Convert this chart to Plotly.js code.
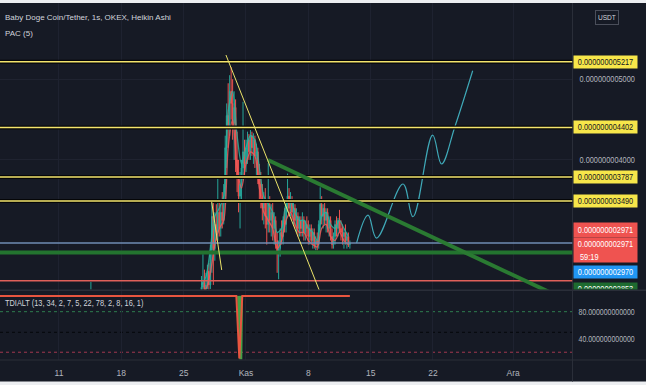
<!DOCTYPE html>
<html><head><meta charset="utf-8">
<script src="https://cdn.plot.ly/plotly-3.0.1.min.js"></script>
<style>html,body{margin:0;padding:0;background:#161a25;}#chart{width:646px;height:385px;}</style>
</head><body><div id="chart"></div>
<script>
// prices below are in units of 1e-12 USDT
const PRICE_UNIT = 1e-12;

// Heikin Ashi bars (4h resolution), starting 2021-10-27 00:00
const barStart = '2021-10-27T00:00:00Z';
const barStepHours = 4;
const haOpen = [
 2350,2420,2480,2390,2450,2620, 2450,2880,3300,2900,3200,3100,
 3350,3150,3350,3250,3550,4150, 4550,4400,4850,4700,4450,4650,
 4000,3800,3550,3700,3900,4100, 3950,4150,4250,4100,4300,4150,
 4250,4050,4100,3800,3700,3550, 3400,3500,3300,3200,3450,3250,
 3350,3150,3250,3000,2850,2900, 3100,3050,3250,3200,3450,3550,
 3400,3500,3350,3400,3250,3300, 3150,3250,3150,3250,3100,3200,
 3150,3050,3150,3000,3100,2950, 3000,2950,3200,3450,3300,3400,
 3250,3350,3150,3250,3050,2950, 3050,3200,3150,3250,3150,3100,
 3050,3100,3000,3050,2950];
const haHigh = [
 2560,2830,2640,2600,2700,2720, 2950,3480,3500,3350,3450,3780,
 3500,3450,3600,3700,4300,4700, 4950,5050,5150,5000,4850,4750,
 4350,4000,3850,4000,4720,4250, 4250,4350,4320,4370,4350,4330,
 4300,4200,4150,3950,3850,3700, 3600,3650,3500,3960,3550,3450,
 3500,3350,3300,3100,3000,3150, 3250,3300,3400,3500,3830,3650,
 3600,3550,3500,3450,3400,3350, 3300,3300,3350,3300,3250,3300,
 3250,3200,3200,3150,3150,3050, 3100,3250,3660,3550,3450,3500,
 3400,3400,3300,3300,3150,3100, 3250,3300,3280,3380,3250,3200,
 3150,3200,3100,3100,3000];
const haLow = [
 2300,2380,2330,2340,2400,2380, 2400,2600,2450,2750,3000,3000,
 3050,3050,3150,3200,3450,3900, 4150,4300,4500,4250,4000,3850,
 3600,3350,3150,3500,3750,3800, 3850,3950,4000,4000,4050,3950,
 3900,3800,3700,3500,3400,3250, 3200,3150,2950,3100,3100,3050,
 3000,2950,2900,2600,2520,2800, 2950,2950,3100,3100,3350,3300,
 3300,3250,3200,3150,3100,3050, 3050,3050,3050,3000,3000,3050,
 2950,2950,2950,2900,2900,2880, 2880,2900,3100,3200,3150,3200,
 3100,3100,3050,3000,2900,2900, 2950,3050,3050,3100,3000,2950,
 2900,2950,2900,2920,2900];
const haClose = [
 2420,2480,2390,2450,2620,2450, 2880,3300,2900,3200,3100,3350,
 3150,3350,3250,3550,4150,4550, 4400,4850,4700,4450,4650,4000,
 3800,3550,3700,3900,4100,3950, 4150,4250,4100,4300,4150,4250,
 4050,4100,3800,3700,3550,3400, 3500,3300,3200,3450,3250,3350,
 3150,3250,3000,2850,2900,3100, 3050,3250,3200,3450,3550,3400,
 3500,3350,3400,3250,3300,3150, 3250,3150,3250,3100,3200,3150,
 3050,3150,3000,3100,2950,3000, 2950,3200,3450,3300,3400,3250,
 3350,3150,3250,3050,2950,3050, 3200,3150,3250,3150,3100,3050,
 3100,3000,3050,2950,2971];

// one early bar poking into view
const earlyTime = ['2021-10-14 14:00'];
const earlyOpen = [2300], earlyHigh = [2486], earlyLow = [2250], earlyClose = [2350];

// PAC (5) channel, sampled every 12h from 2021-10-27 00:00
const pacStepHours = 12;
const pacUpper = [2450,2550,2900,3300,3400,3550,4600,4850,4300,3950,4150,4300,4250,3900,3550,3450,3350,3100,3150,3450,3500,3350,3250,3250,3150,3100,3000,3300,3350,3200,3150,3250,3150,3050];
const pacLower = [2350,2400,2600,2950,3150,3250,4150,4500,3900,3650,3950,4100,4050,3650,3350,3250,3150,2900,3000,3250,3350,3200,3100,3100,3000,2950,2920,3150,3200,3050,3000,3100,3000,2950];

// horizontal levels
const yellowLevels = [5217, 4402, 3787, 3490];
const blueLevel = 2971;
const greenLevel = 2853;
const redLevel = 2502;

// trend lines [start, end]
const yellowTrendDates = [['2021-10-29 18:00', '2021-11-09 16:00'], ['2021-10-28 03:30', '2021-10-29 06:30']];
const yellowTrendPrices = [[5300, 2262], [3481, 2635]];
const greenTrendDates = ['2021-11-03 11:15', '2021-12-06 06:00'];
const greenTrendPrices = [3998, 2300];

// projected path drawing
const projDates = ['2021-11-13 10:00','2021-11-14 17:00','2021-11-15 16:00','2021-11-18 15:00','2021-11-19 18:00','2021-11-21 23:00','2021-11-22 23:00','2021-11-24 11:00','2021-11-26 11:00'];
const projPrices = [2969, 3316, 3031, 3701, 3295, 4308, 3949, 4411, 5105];

// TDI ALT indicator
const tdiRedDates = ['2021-10-04 00:00','2021-10-20 00:00','2021-10-30 22:00','2021-10-31 06:00','2021-10-31 14:00','2021-11-06 00:00','2021-11-12 16:00'];
const tdiRedVals = [103, 103, 103, 12, 103, 103, 103];
const tdiGreenDates = ['2021-10-31 04:00','2021-10-31 08:00','2021-10-31 10:00','2021-10-31 12:00'];
const tdiGreenVals = [103, 10, 10, 103];
const tdiLevels = [80, 50, 21];

// axis ticks
const dateTicks = ['2021-10-11','2021-10-18','2021-10-25','2021-11-01','2021-11-08','2021-11-15','2021-11-22','2021-12-01'];
const dateTickText = ['11','18','25','Kas','8','15','22','Ara'];
const priceTicks = [4000, 5000];
const tdiTicks = [40, 80];

// ---------- build ----------
const W = 646, H = 385;
const py = p => 1 - p / H;      // pixel row -> paper
const px = p => p / W;          // pixel col -> paper
const FONT = "'Liberation Sans', Arial, sans-serif";
const X0 = '2021-10-04 09:00', X1 = '2021-12-07 16:00';
const U = PRICE_UNIT;
const HEADER_TEXTS = ['Baby Doge Coin/Tether, 1s, OKEX, Heikin Ashi', 'PAC (5)'];

function timeline(n, stepH) {
  const t0 = Date.parse(barStart);
  return Array.from({length: n}, (_, i) => new Date(t0 + i * stepH * 3600e3).toISOString().slice(0, 16).replace('T', ' '));
}
const times = earlyTime.concat(timeline(haOpen.length, barStepHours));
const sc = a => a.map(v => v * U);

const candles = {
  type: 'candlestick', xaxis: 'x', yaxis: 'y',
  x: times,
  open: sc(earlyOpen.concat(haOpen)), high: sc(earlyHigh.concat(haHigh)),
  low: sc(earlyLow.concat(haLow)), close: sc(earlyClose.concat(haClose)),
  increasing: {line: {color: '#26a69a', width: 1}, fillcolor: '#26a69a'},
  decreasing: {line: {color: '#ef5350', width: 1}, fillcolor: '#ef5350'},
  whiskerwidth: 0, hoverinfo: 'skip'
};
const pacTimes = timeline(pacUpper.length, pacStepHours);
const pacUp = {
  type: 'scatter', mode: 'lines', xaxis: 'x', yaxis: 'y', x: pacTimes, y: sc(pacUpper),
  line: {color: '#2bb39f', width: 1.3, shape: 'spline', smoothing: 0.8}, opacity: 0.85, hoverinfo: 'skip'
};
const pacLo = {
  type: 'scatter', mode: 'lines', xaxis: 'x', yaxis: 'y', x: pacTimes, y: sc(pacLower),
  line: {color: '#f05a5a', width: 1.3, shape: 'spline', smoothing: 0.8}, opacity: 0.85, hoverinfo: 'skip'
};
const proj = {
  type: 'scatter', mode: 'lines', xaxis: 'x', yaxis: 'y',
  x: projDates, y: sc(projPrices),
  line: {color: '#3fa9b8', width: 1.2, shape: 'spline', smoothing: 1.1}, hoverinfo: 'skip'
};
const tdiGreen = {
  type: 'scatter', mode: 'lines', xaxis: 'x', yaxis: 'y2',
  x: tdiGreenDates, y: tdiGreenVals, line: {color: '#43a047', width: 3}, hoverinfo: 'skip'
};
const tdiRed = {
  type: 'scatter', mode: 'lines', xaxis: 'x', yaxis: 'y2',
  x: tdiRedDates, y: tdiRedVals, line: {color: '#e8553f', width: 2}, hoverinfo: 'skip'
};

const shapes = [];
// background strips
shapes.push({type:'rect', xref:'paper', yref:'paper', x0:0, x1:1, y0:py(3), y1:1, fillcolor:'#eceef1', line:{width:0}, layer:'above'});
shapes.push({type:'rect', xref:'paper', yref:'paper', x0:0, x1:1, y0:0, y1:py(381.5), fillcolor:'#eceef1', line:{width:0}, layer:'above'});
// separators
shapes.push({type:'line', xref:'paper', yref:'paper', x0:px(572.5), x1:px(572.5), y0:py(381.5), y1:py(3), line:{color:'#2a2e39', width:1}});
shapes.push({type:'line', xref:'paper', yref:'paper', x0:0, x1:1, y0:py(290.3), y1:py(290.3), line:{color:'#2a2e39', width:1.5}});
shapes.push({type:'line', xref:'paper', yref:'paper', x0:0, x1:1, y0:py(360), y1:py(360), line:{color:'#2a2e39', width:1}});
// indicator levels
const tdiStyles = [{color:'#2f7d4f', dash:'dot'}, {color:'#05070a', dash:'dot'}, {color:'#a3384f', dash:'3px,3px'}];
tdiLevels.forEach((v, i) => shapes.push({type:'line', xref:'x', yref:'y2', x0:X0, x1:X1, y0:v, y1:v, line:{color:tdiStyles[i].color, width:1, dash:tdiStyles[i].dash}, layer:'below'}));
// horizontal levels
shapes.push({type:'line', xref:'x', yref:'y', x0:X0, x1:X1, y0:blueLevel*U, y1:blueLevel*U, line:{color:'#6f8db3', width:1.5}});
shapes.push({type:'line', xref:'x', yref:'y', x0:X0, x1:X1, y0:greenLevel*U, y1:greenLevel*U, line:{color:'#23742f', width:4}});
shapes.push({type:'line', xref:'x', yref:'y', x0:X0, x1:X1, y0:redLevel*U, y1:redLevel*U, line:{color:'#e0605a', width:1.5}});
yellowLevels.forEach(v => {
  shapes.push({type:'line', xref:'x', yref:'y', x0:X0, x1:X1, y0:v*U, y1:v*U, line:{color:'#050608', width:4}});
  shapes.push({type:'line', xref:'x', yref:'y', x0:X0, x1:X1, y0:v*U, y1:v*U, line:{color:'#f3e46c', width:1.6}});
});
// trend lines
shapes.push({type:'line', xref:'x', yref:'y', x0:greenTrendDates[0], x1:greenTrendDates[1], y0:greenTrendPrices[0]*U, y1:greenTrendPrices[1]*U, line:{color:'#2a7a32', width:4}});
yellowTrendDates.forEach((d, i) => shapes.push({type:'line', xref:'x', yref:'y', x0:d[0], x1:d[1], y0:yellowTrendPrices[i][0]*U, y1:yellowTrendPrices[i][1]*U, line:{color:'#ece46a', width:1}}));

const labelX = px(572.7);
const fmtPrice = v => (v * U).toFixed(12);
const lab = (y, yref, text, bg, fg, extra) => Object.assign({
  xref:'paper', x:labelX, xanchor:'left', yref:yref, y:y, yanchor:'middle',
  text:text, showarrow:false, bgcolor:bg, width:62, height:11, borderpad:0.5,
  font:{family:FONT, size:9, color:fg}, align:'center'
}, extra || {});
const annotations = [
  {xref:'paper', yref:'paper', x:px(3), y:py(17.5), xanchor:'left', yanchor:'middle', showarrow:false, align:'left',
   text:HEADER_TEXTS[0], font:{family:FONT, size:8, color:'#d1d4dc'}},
  {xref:'paper', yref:'paper', x:px(3), y:py(33), xanchor:'left', yanchor:'middle', showarrow:false, align:'left',
   text:HEADER_TEXTS[1], font:{family:FONT, size:8, color:'#d1d4dc'}},
  {xref:'paper', yref:'paper', x:px(607), y:py(17), xanchor:'center', yanchor:'middle', showarrow:false,
   text:'USDT', width:18, bordercolor:'#4a4e5a', borderwidth:1, borderpad:2, font:{family:FONT, size:8, color:'#d1d4dc'}},
  {xref:'paper', yref:'paper', x:px(3), y:py(303), xanchor:'left', yanchor:'middle', showarrow:false, align:'left',
   text:'TDIALT (13, 34, 2, 7, 5, 22, 78, 2, 8, 16, 1)', font:{family:FONT, size:9, color:'#d1d4dc'}}
];
yellowLevels.forEach(v => annotations.push(lab(v*U, 'y', fmtPrice(v), '#f7e64a', '#131722')));
annotations.push(lab(py(229.5), 'paper', fmtPrice(blueLevel), '#ef5350', '#ffffff', {height:13}));
annotations.push(lab(py(250.3), 'paper', fmtPrice(blueLevel), '#ef5350', '#ffffff', {height:23, valign:'top'}));
annotations.push({xref:'paper', yref:'paper', x:px(578), y:py(256.5), xanchor:'left', yanchor:'middle', showarrow:false, align:'left',
   text:'59:19', font:{family:FONT, size:9, color:'#ffffff'}});
annotations.push(lab(py(271.7), 'paper', fmtPrice(2970), '#2196f3', '#ffffff', {height:11}));
annotations.push(lab(py(282.2), 'paper', fmtPrice(greenLevel), '#1e6b30', '#ffffff', {height:5, yanchor:'top', valign:'top'}));

const layout = {
  width: W, height: H, margin: {l:0, r:0, t:0, b:0},
  paper_bgcolor: '#161a25', plot_bgcolor: '#161a25',
  showlegend: false, hovermode: false, dragmode: false,
  font: {family: FONT, color: '#b2b5be'},
  xaxis: {
    type: 'date', domain: [0, px(572.5)], range: [X0, X1], anchor: 'y2',
    tickvals: dateTicks, ticktext: dateTickText, ticks: '', ticklabelstandoff: 7,
    showgrid: true, gridcolor: '#1e2230', gridwidth: 1, zeroline: false, showline: false,
    tickfont: {family: FONT, size: 8.5, color: '#b2b5be'},
    rangeslider: {visible: false}, fixedrange: true
  },
  yaxis: {
    domain: [py(289.5), py(3)], range: [2393*U, 5945*U], anchor: 'x', side: 'right',
    tickvals: sc(priceTicks), tickformat: '.12f', ticks: '', ticklabelstandoff: 6,
    showgrid: true, gridcolor: '#1f2330', zeroline: false, showline: false,
    tickfont: {family: FONT, size: 9, color: '#b2b5be'}, fixedrange: true
  },
  yaxis2: {
    domain: [py(359.5), py(291)], range: [10.4, 110.1], anchor: 'x', side: 'right',
    tickvals: tdiTicks, tickformat: '.12f', ticks: '', ticklabelstandoff: 5,
    showgrid: false, zeroline: false, showline: false,
    tickfont: {family: FONT, size: 8.5, color: '#b2b5be'}, fixedrange: true
  },
  shapes: shapes,
  annotations: annotations
};

// the reference uses a condensed UI face: narrow the glyphs of texts to match
function squeezeTexts(gd) {
  const squeeze = 0.82;
  gd.querySelectorAll('.annotation-text, .ytick text, .y2tick text').forEach(t => {
    if (t.getAttribute('textLength')) return;
    if (HEADER_TEXTS.indexOf(t.textContent) >= 0) return;
    const w = t.getComputedTextLength();
    if (w > 0) {
      t.setAttribute('textLength', (w * squeeze).toFixed(1));
      t.setAttribute('lengthAdjust', 'spacingAndGlyphs');
    }
  });
}
Plotly.newPlot('chart', [candles, pacUp, pacLo, tdiGreen, tdiRed, proj], layout, {staticPlot: true, displayModeBar: false})
  .then(gd => {
    squeezeTexts(gd);
    setTimeout(() => squeezeTexts(gd), 0);
    requestAnimationFrame(() => squeezeTexts(gd));
  });
</script>
</body></html>
